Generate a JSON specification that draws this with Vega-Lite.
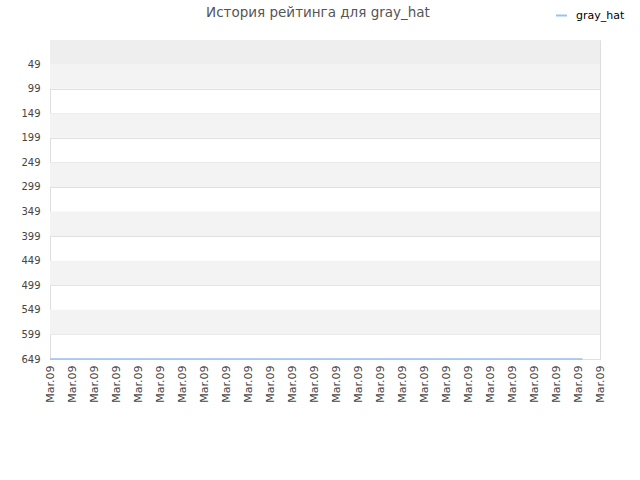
{
  "$schema": "https://vega.github.io/schema/vega-lite/v6.json",
  "autosize": "none",
  "width": 550,
  "height": 319,
  "padding": {"left": 50, "top": 40, "right": 40, "bottom": 121},
  "background": "white",
  "config": {
    "font": "DejaVu Sans",
    "view": {"stroke": "#dddddd", "strokeWidth": 1},
    "axis": {"labelOverlap": false}
  },
  "title": {
    "text": "История рейтинга для gray_hat",
    "fontSize": 13.5,
    "fontWeight": "normal",
    "color": "#555555",
    "font": "DejaVu Sans",
    "anchor": "middle",
    "offset": 0,
    "dy": 10,
    "dx": -7
  },
  "datasets": {
    "bands": [
      {"y1": 0, "y2": 49, "band": "top"},
      {"y1": 49, "y2": 99, "band": "alt"},
      {"y1": 149, "y2": 199, "band": "alt"},
      {"y1": 249, "y2": 299, "band": "alt"},
      {"y1": 349, "y2": 399, "band": "alt"},
      {"y1": 449, "y2": 499, "band": "alt"},
      {"y1": 549, "y2": 599, "band": "alt"}
    ],
    "ratings": [
      {"t": 0, "rating": 649, "player": "gray_hat"},
      {"t": 24.2, "rating": 649, "player": "gray_hat"}
    ]
  },
  "layer": [
    {
      "data": {"name": "bands"},
      "mark": {"type": "rect"},
      "encoding": {
        "y": {"field": "y1", "type": "quantitative", "scale": {"domain": [0, 649], "reverse": true, "nice": false, "zero": false},
          "axis": {"values": [49, 99, 149, 199, 249, 299, 349, 399, 449, 499, 549, 599, 649], "title": null, "grid": true, "gridColor": "#e0e0e0", "ticks": false, "domain": false, "labelFont": "DejaVu Sans", "labelFontSize": 10, "labelColor": "#444444", "labelPadding": 10, "labelOverlap": false}},
        "y2": {"field": "y2"},
        "color": {"field": "band", "type": "nominal", "scale": {"domain": ["top", "alt"], "range": ["#eeeeee", "#f3f3f3"]}, "legend": null}
      }
    },
    {
      "data": {"name": "ratings"},
      "mark": {"type": "line", "strokeWidth": 1.5, "clip": false},
      "encoding": {
        "x": {"field": "t", "type": "quantitative", "scale": {"domain": [0, 25], "nice": false, "zero": false},
          "axis": {"values": [0,1,2,3,4,5,6,7,8,9,10,11,12,13,14,15,16,17,18,19,20,21,22,23,24,25], "labelExpr": "'Mar.09'", "labelAngle": -90, "title": null, "grid": false, "ticks": false, "domain": false, "labelFont": "DejaVu Sans", "labelFontSize": 11, "labelColor": "#444444", "labelPadding": 6, "labelOverlap": false, "labelBound": false, "labelFlush": false}},
        "y": {"field": "rating", "type": "quantitative",
          "axis": {"values": [49, 99, 149, 199, 249, 299, 349, 399, 449, 499, 549, 599, 649], "title": null, "grid": true, "gridColor": "#e0e0e0", "ticks": false, "domain": false, "labelFont": "DejaVu Sans", "labelFontSize": 10, "labelColor": "#444444", "labelPadding": 10, "labelOverlap": false, "tickCount": 13}},
        "color": {"field": "player", "type": "nominal", "scale": {"range": ["#99c2ee"]},
          "legend": {"title": null, "orient": "none", "legendX": 505, "legendY": -31, "symbolType": "stroke", "symbolSize": 120, "symbolStrokeWidth": 2, "labelFont": "DejaVu Sans", "labelFontSize": 11, "labelColor": "#000000", "labelOffset": 8}}
      }
    }
  ],
  "resolve": {"scale": {"color": "independent"}}
}
